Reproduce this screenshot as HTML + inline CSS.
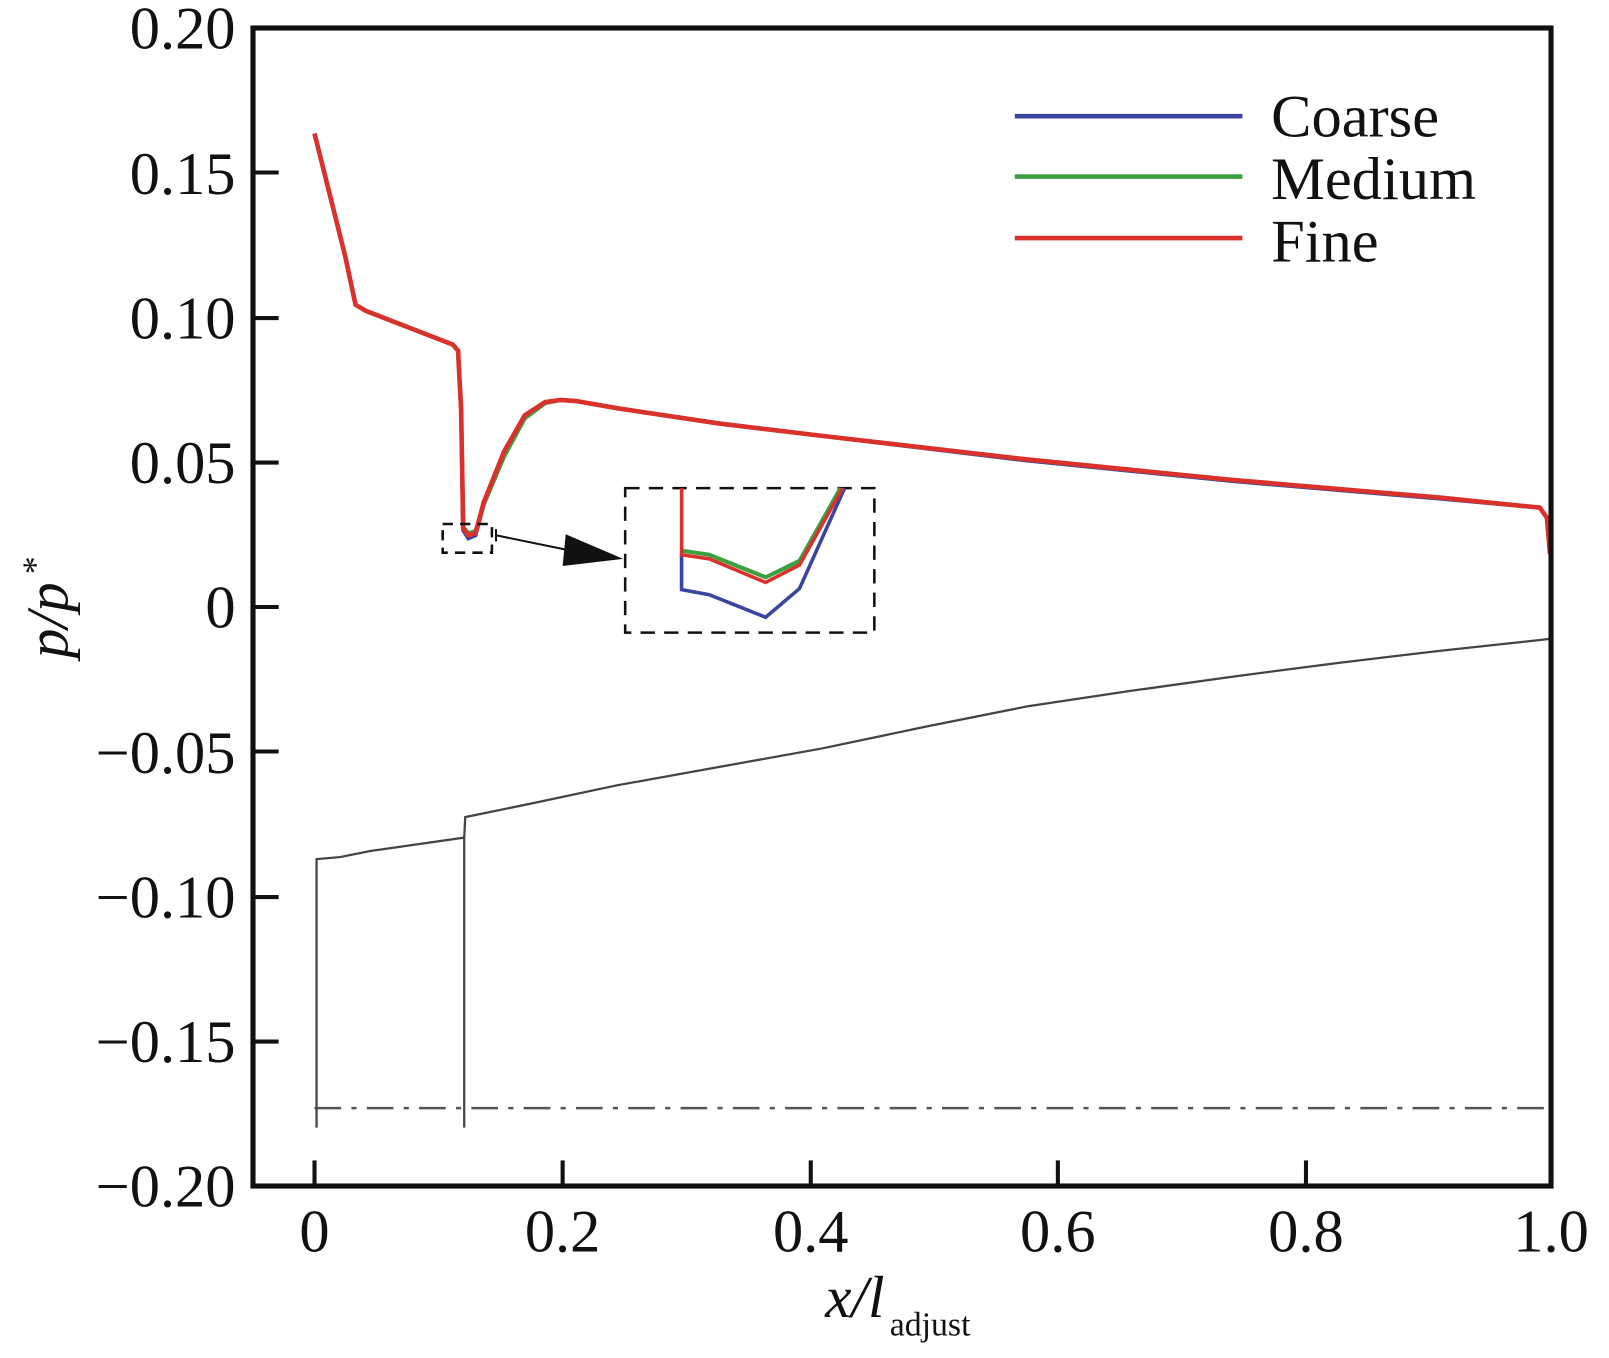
<!DOCTYPE html>
<html><head><style>
html,body{margin:0;padding:0;background:#fff;}
svg{display:block;}
text{font-family:"Liberation Serif",serif;fill:#111;}
</style></head><body>
<svg width="1609" height="1358" viewBox="0 0 1609 1358" xmlns="http://www.w3.org/2000/svg">
<g transform="translate(1.8,0.33) scale(1.0253,1.0248)">
<line x1="305" y1="1081" x2="1511" y2="1081" stroke="#555" stroke-width="2.5" stroke-dasharray="26,10,5,10"/>
<polyline fill="none" stroke="#444" stroke-width="2.2" points="307,1100 307,838 330,836 360,830 451,817 451,1100"/>
<polyline fill="none" stroke="#444" stroke-width="2.2" points="451,817 452,797 520,783 600,766 700,748 800,730 900,709 1000,689 1100,674 1200,660 1300,647 1400,635 1511,623"/>
<polyline fill="none" stroke="#3a45a0" stroke-width="4" points="305,130 320,190 335,250 345,297 355,303 440,336 445,342 448,400 450,517 455,525 462,522 470,492 490,440 510,405 530,392 545,390 560,391 600,398 700,413 800,425 1000,449 1200,469 1400,486 1500,495 1507,505 1510,540"/>
<polyline fill="none" stroke="#3aa040" stroke-width="4" points="305,130 320,190 335,250 345,297 355,303 440,336 445,342 448,400 450,514 455,520 462,518 470,492 490,445 510,408 530,393 545,390 560,391 600,398 700,413 800,425 1000,448 1200,468 1400,485 1500,495 1507,505 1510,540"/>
<polyline fill="none" stroke="#d9322c" stroke-width="4.5" points="305,130 320,190 335,250 345,297 355,303 440,336 445,342 448,400 450,515 455,522 462,520 470,490 490,440 510,405 530,392 545,390 560,391 600,398 700,413 800,425 1000,448 1200,468 1400,485 1500,495 1507,505 1510,540"/>
<rect x="430" y="511" width="48" height="28" fill="none" stroke="#111" stroke-width="2.5" stroke-dasharray="10,7"/>
<line x1="482" y1="516" x2="482" y2="528" stroke="#111" stroke-width="2"/>
<line x1="482" y1="522" x2="555" y2="537" stroke="#111" stroke-width="2"/>
<polygon points="550,521 606,545 547,552" fill="#111"/>
<rect x="608" y="476" width="243" height="141" fill="none" stroke="#111" stroke-width="2.5" stroke-dasharray="14,9"/>
<polyline fill="none" stroke="#3a45a0" stroke-width="3.5" points="663,540 663,575 690,580 745,602 778,574 822,476"/>
<polyline fill="none" stroke="#3aa040" stroke-width="4" points="663,537 690,541 745,563 778,547 818,476"/>
<polyline fill="none" stroke="#d9322c" stroke-width="3.5" points="663,476 663,541 690,545 745,568 778,551 820,476"/>
<line x1="988" y1="113" x2="1210" y2="113" stroke="#3a45a0" stroke-width="4.5"/>
<line x1="988" y1="172" x2="1210" y2="172" stroke="#3aa040" stroke-width="4.5"/>
<line x1="988" y1="232" x2="1210" y2="232" stroke="#d9322c" stroke-width="4.5"/>
<text x="1238" y="133" font-size="59">Coarse</text>
<text x="1238" y="194" font-size="59">Medium</text>
<text x="1238" y="255" font-size="59">Fine</text>
<rect x="245" y="27" width="1266" height="1130" fill="none" stroke="#111" stroke-width="5"/>
<g stroke="#111" stroke-width="4">
<line x1="305" y1="1157" x2="305" y2="1132"/>
<line x1="547" y1="1157" x2="547" y2="1132"/>
<line x1="789" y1="1157" x2="789" y2="1132"/>
<line x1="1030" y1="1157" x2="1030" y2="1132"/>
<line x1="1272" y1="1157" x2="1272" y2="1132"/>
<line x1="245" y1="168" x2="270" y2="168"/>
<line x1="245" y1="310" x2="270" y2="310"/>
<line x1="245" y1="451" x2="270" y2="451"/>
<line x1="245" y1="592" x2="270" y2="592"/>
<line x1="245" y1="733" x2="270" y2="733"/>
<line x1="245" y1="875" x2="270" y2="875"/>
<line x1="245" y1="1016" x2="270" y2="1016"/>
</g>
<g font-size="59" text-anchor="end">
<text x="228" y="47">0.20</text>
<text x="228" y="189">0.15</text>
<text x="228" y="330">0.10</text>
<text x="228" y="471">0.05</text>
<text x="228" y="612">0</text>
<text x="228" y="754">−0.05</text>
<text x="228" y="895">−0.10</text>
<text x="228" y="1036">−0.15</text>
<text x="228" y="1177">−0.20</text>
</g>
<g font-size="59" text-anchor="middle">
<text x="305" y="1221">0</text>
<text x="547" y="1221">0.2</text>
<text x="789" y="1221">0.4</text>
<text x="1030" y="1221">0.6</text>
<text x="1272" y="1221">0.8</text>
<text x="1511" y="1221">1.0</text>
</g>
<text x="803" y="1285" font-size="58" font-style="italic">x/l</text>
<text x="866" y="1303" font-size="33">adjust</text>
<g transform="translate(64,642) rotate(-90)">
<text x="0" y="0" font-size="58" font-style="italic">p/p</text>
<text x="82" y="-20" font-size="35">*</text>
</g>
</g>
</svg>
</body></html>
